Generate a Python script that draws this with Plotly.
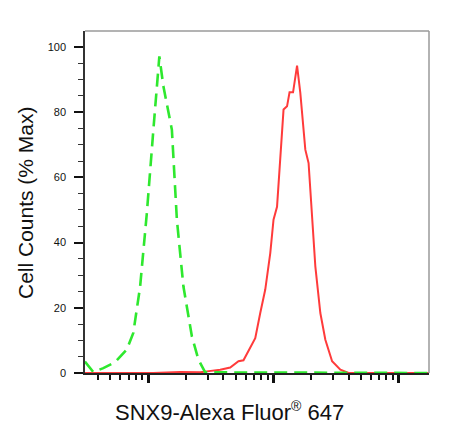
import plotly.graph_objects as go

# Isotype control (green dashed) - fluorescence intensity vs % max
ctrl_x = [313, 365, 439, 545, 676, 762, 863, 977, 1102, 1230, 1324, 1549, 1698,
          1914, 2239, 2523, 2858, 175000]
ctrl_y = [3.5, 0.3, 1.5, 3.3, 7.2, 12.3, 26.4, 49, 74.6, 97.1, 88, 74.6, 47,
          26.6, 11.2, 4.1, 0.2, 0]

# SNX9 stained sample (red solid)
snx9_x = [313, 1096, 1803, 2606, 2951, 3767, 4529, 5272, 5781, 6546, 7178, 7870,
          8630, 9462, 10046, 10715, 11376, 12078, 12882, 13490, 14388, 15488,
          16444, 18030, 19143, 20417, 21677, 23768, 26062, 29512, 34356, 39994,
          175000]
snx9_y = [0, 0, 0.3, 0.2, 0.5, 1, 1.7, 3.6, 3.9, 7.7, 10.7, 18.4, 25.6, 36.8,
          47, 51, 65.4, 80.8, 81.8, 86.1, 86.1, 94.3, 85.9, 68.5, 64.4, 47, 32.7,
          18.4, 10.2, 3.6, 1, 0, 0]

y_tick_vals = [0, 20, 40, 60, 80, 100]
x_major_ticks = [1e3, 1e4, 1e5]
x_minor_ticks = [m * 10 ** e for e in (2, 3, 4) for m in range(2, 10)]

FONT = "Arial, Liberation Sans, sans-serif"

fig = go.Figure()
fig.add_trace(go.Scatter(x=snx9_x, y=snx9_y, mode="lines",
                         line=dict(color="#ff3b3b", width=2),
                         showlegend=False, cliponaxis=False))
fig.add_trace(go.Scatter(x=ctrl_x, y=ctrl_y, mode="lines",
                         line=dict(color="#2ee82e", width=2.6, dash="13px,7px"),
                         showlegend=False, cliponaxis=False))

fig.update_layout(
    width=454, height=437,
    margin=dict(l=85, r=25, t=31, b=64),
    paper_bgcolor="white", plot_bgcolor="white",
    font=dict(family=FONT, color="#111"),
    xaxis=dict(type="log", range=[2.496, 5.244], showgrid=False, zeroline=False,
               showline=True, linecolor="#222", linewidth=2,
               tickmode="array", tickvals=x_major_ticks, showticklabels=False,
               ticks="outside", ticklen=8, tickwidth=3, tickcolor="#111",
               minor=dict(tickmode="array", tickvals=x_minor_ticks,
                          ticks="outside", ticklen=5, tickwidth=1.5,
                          tickcolor="#111", showgrid=False)),
    yaxis=dict(range=[0, 104.9], showgrid=False, zeroline=False,
               showline=True, linecolor="#333", linewidth=1.5,
               tickmode="array", tickvals=y_tick_vals,
               ticks="outside", ticklen=9, tickwidth=2, tickcolor="#111",
               tickfont=dict(size=11, color="#111", family=FONT),
               ticklabelstandoff=6,
               minor=dict(dtick=5, ticks="outside", ticklen=5, tickwidth=1.2,
                          tickcolor="#333", showgrid=False)),
    shapes=[
        dict(type="line", xref="paper", yref="paper", x0=0, x1=1, y0=1, y1=1,
             line=dict(color="#9a9a9a", width=1.5)),
        dict(type="line", xref="paper", yref="paper", x0=1, x1=1, y0=0, y1=1,
             line=dict(color="#9a9a9a", width=1.5)),
    ],
    annotations=[
        dict(text="Cell Counts (% Max)", xref="paper", yref="paper",
             x=-0.1744, y=0.497, xanchor="center", yanchor="middle",
             textangle=-90, showarrow=False,
             font=dict(size=21, family=FONT, color="#111")),
        dict(text="SNX9-Alexa Fluor<sup><span style='font-size:14px'>®</span></sup> 647",
             xref="paper", yref="paper",
             x=0.42, y=-0.114, xanchor="center", yanchor="middle",
             showarrow=False, font=dict(size=22, family=FONT, color="#111")),
    ],
)

fig.write_html("out.html",
               config={"displayModeBar": False},
               post_script="document.body.style.margin='0';"
                           "document.body.style.overflow='hidden';")
